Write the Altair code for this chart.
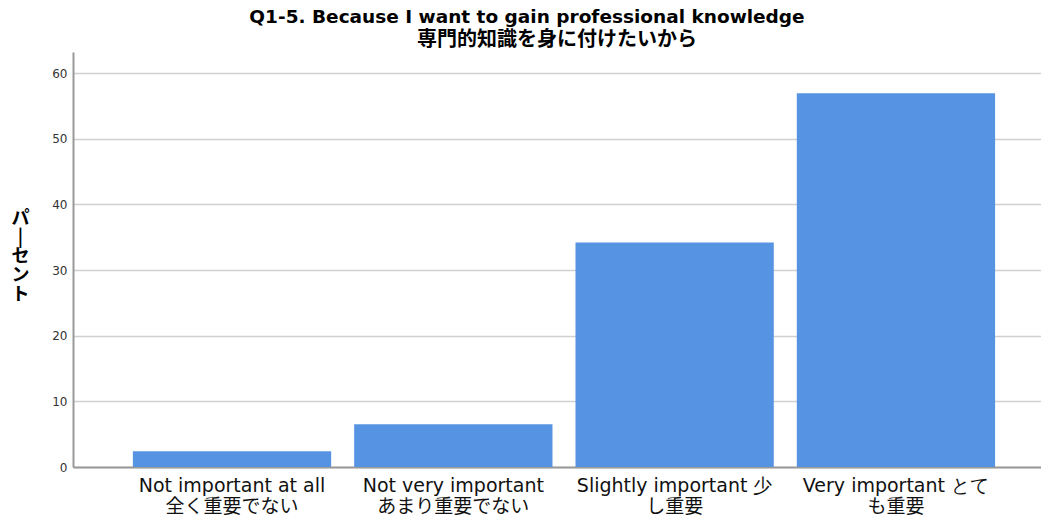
import altair as alt
import pandas as pd

categories = [
    "Not important at all|全く重要でない",
    "Not very important|あまり重要でない",
    "Slightly important 少|し重要",
    "Very important とて|も重要",
]
percents = [2.4, 6.5, 34.2, 56.9]
y_ticks = [0, 10, 20, 30, 40, 50, 60]

title_line1 = "Q1-5. Because I want to gain professional knowledge"
title_line2 = "専門的知識を身に付けたいから"
y_title = ["パ", "|", "セ", "ン", "ト"]

df = pd.DataFrame({"cat": categories, "pct": percents})

x_scale = alt.Scale(paddingInner=0.104, paddingOuter=0.239, align=0.566)

base = alt.Chart(df)

bars = base.mark_bar(color="#5694e3").encode(
    x=alt.X(
        "cat:N",
        sort=categories,
        scale=x_scale,
        axis=alt.Axis(
            title=None,
            labelExpr="split(datum.label, '|')[0]",
            labelAngle=0,
            labelFont="DejaVu Sans",
            labelFontSize=19,
            labelColor="#111",
            labelPadding=9,
            labelLimit=400,
            labelOverlap=False,
            ticks=False,
            domainColor="#9a9a9a",
            domainWidth=2,
            grid=False,
        ),
    ),
    y=alt.Y(
        "pct:Q",
        scale=alt.Scale(domain=[0, 63.2], nice=False, zero=True),
        axis=alt.Axis(
            values=y_ticks,
            title=y_title,
            titleAngle=0,
            titleFont="Noto Sans CJK JP",
            titleFontSize=18,
            titleFontWeight="bold",
            titleColor="#000",
            titleLineHeight=19,
            titleAlign="center",
            titleBaseline="top",
            titleX=-53,
            titleY=157,
            labelFont="DejaVu Sans",
            labelFontSize=12,
            labelColor="#333",
            labelPadding=6,
            ticks=False,
            domainColor="#9a9a9a",
            domainWidth=2,
            gridColor="#d0d0d0",
            gridWidth=1.5,
        ),
    ),
)

second_line = base.transform_calculate(
    line2="split(datum.cat, '|')[1]"
).mark_text(
    font="Noto Sans CJK JP",
    fontSize=19,
    color="#111",
    baseline="top",
    align="center",
).encode(
    x=alt.X("cat:N", sort=categories, scale=x_scale),
    y=alt.value(446),
    text="line2:N",
)

title1 = alt.Chart(pd.DataFrame({"t": [title_line1]})).mark_text(
    font="DejaVu Sans",
    fontSize=18.5,
    fontWeight="bold",
    color="#000",
    baseline="top",
    align="center",
).encode(
    x=alt.value(454),
    y=alt.value(-44),
    text="t:N",
)

title2 = alt.Chart(pd.DataFrame({"t": [title_line2]})).mark_text(
    font="Noto Sans CJK JP",
    fontSize=20,
    fontWeight="bold",
    color="#000",
    baseline="top",
    align="center",
).encode(
    x=alt.value(484),
    y=alt.value(-22),
    text="t:N",
)

chart = alt.layer(bars, second_line, title1, title2).properties(
    width=968,
    height=415,
    padding={"left": 65, "top": 44, "right": 0, "bottom": 50},
    autosize=alt.AutoSizeParams(type="none"),
).configure_view(stroke=None)

chart.save("out.html", embed_options={"renderer": "svg", "actions": False})
